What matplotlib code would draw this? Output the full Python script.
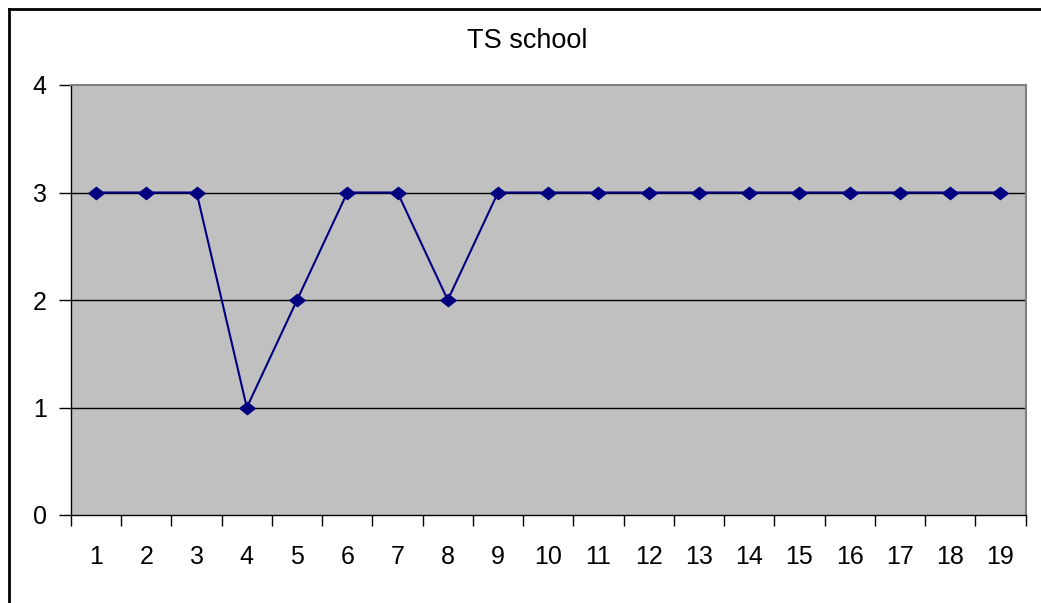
import matplotlib
matplotlib.use("Agg")
import matplotlib.pyplot as plt
from matplotlib.lines import Line2D

categories = [str(i) for i in range(1, 20)]
values = [3, 3, 3, 1, 2, 3, 3, 2, 3, 3, 3, 3, 3, 3, 3, 3, 3, 3, 3]
yticks = [0, 1, 2, 3, 4]
title = "TS school"

plt.rcParams['font.family'] = ['Liberation Sans', 'DejaVu Sans']

W, H = 1041, 603
fig = plt.figure(figsize=(W / 100, H / 100), dpi=100)
ax = fig.add_axes([71 / W, 1 - 515 / H, (1025.5 - 71) / W, (515 - 85) / H])
ax.set_facecolor('#C0C0C0')

x = list(range(1, len(categories) + 1))
ax.set_xlim(0.5, len(categories) + 0.5)
ax.set_ylim(0, 4)

for yv in yticks[1:-1]:
    ax.axhline(yv, color='black', linewidth=1, zorder=1)

diamond = [(-1, 0), (0, 0.8), (1, 0), (0, -0.8), (-1, 0)]
ax.plot(x, values, color='#000080', linewidth=1.5, marker=diamond,
        markersize=11, markerfacecolor='#000080', markeredgecolor='#000080', zorder=3)

ax.set_yticks(yticks)
ax.set_yticklabels([str(v) for v in yticks])
ax.set_xticks([i + 0.5 for i in range(0, len(categories) + 1)])
ax.set_xticklabels([])
ax.set_xticks(x, minor=True)
ax.set_xticklabels(categories, minor=True)
ax.tick_params(axis='x', which='major', length=8, width=1, direction='out', color='black')
ax.tick_params(axis='x', which='minor', length=0, pad=21.5, labelsize=18)
ax.tick_params(axis='y', length=9, width=1, direction='out', pad=8.6, labelsize=18)

for side in ['top', 'right']:
    ax.spines[side].set_color('#808080')
    ax.spines[side].set_linewidth(1.5)
for side in ['left', 'bottom']:
    ax.spines[side].set_color('black')
    ax.spines[side].set_linewidth(1)

fig.text(527 / W, 1 - 41 / H, title, ha='center', va='center', fontsize=19.5)

# outer chart border (left and top visible)
fig.add_artist(Line2D([9 / W, 9 / W], [0, 1 - 9 / H], transform=fig.transFigure, color='black', linewidth=2))
fig.add_artist(Line2D([9 / W, 1], [1 - 9 / H, 1 - 9 / H], transform=fig.transFigure, color='black', linewidth=2))

fig.savefig('out.png', dpi=100)
